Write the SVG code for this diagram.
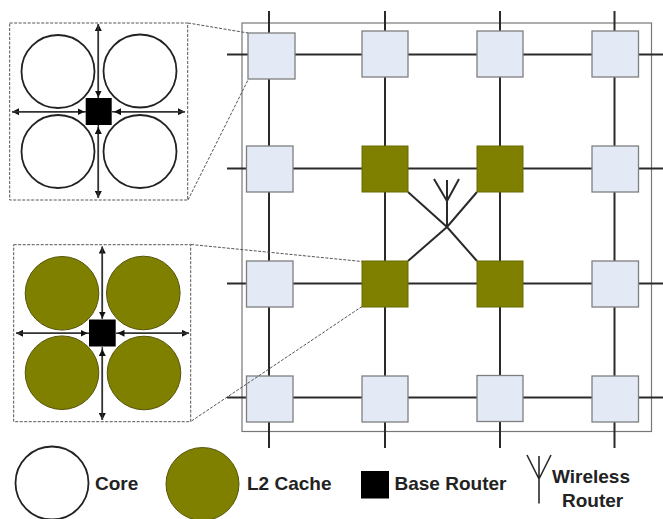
<svg xmlns="http://www.w3.org/2000/svg" width="663" height="519" viewBox="0 0 663 519">
<style>
text{font-family:"Liberation Sans",Arial,sans-serif;font-weight:bold;font-size:19px;fill:#222}
.w{fill:#e3eaf5;stroke:#7f7f7f;stroke-width:1.3}
.o{fill:#7f7f00;stroke:#6a6a00;stroke-width:1}
.l{stroke:#2a2a2a;stroke-width:2;fill:none}
.a{stroke:#333;stroke-width:1.5;fill:none;marker-end:url(#ar)}
.d{stroke:#555;stroke-width:1;fill:none;stroke-dasharray:3 1.5}
.core{fill:#fff;stroke:#222;stroke-width:1.8}
.l2{fill:#7f7f00;stroke:#55550a;stroke-width:1}
</style>
<defs>
<marker id="ar" viewBox="0 0 7 7" refX="7" refY="3.500" markerWidth="7" markerHeight="7" orient="auto" markerUnits="userSpaceOnUse"><path d="M0 0L7 3.500L0 7Z" fill="#111"/></marker>
</defs>
<rect x="242" y="23" width="409.500" height="408.500" fill="none" stroke="#777" stroke-width="1.2"/>
<g id="connectors">
<path class="l" d="M269 11V448M385 11V448M500 11V448M614.500 11V448"/>
<path class="l" d="M227 54.500H663M227 168.500H663M227 283.500H663M227 397.500H663"/>
<path class="l" d="M408 192L447 227L477 261M477 192L447 227L408 261M447 227V180M447 201L434 179M447 201L459 179"/>
</g>
<g id="router-r0c0"><rect class="w" x="248" y="33" width="47" height="46"/></g>
<g id="router-r0c1"><rect class="w" x="362" y="31" width="46" height="46"/></g>
<g id="router-r0c2"><rect class="w" x="477" y="31" width="46" height="46"/></g>
<g id="router-r0c3"><rect class="w" x="592" y="31" width="46.500" height="46"/></g>
<g id="router-r1c0"><rect class="w" x="246.500" y="146" width="46.500" height="46"/></g>
<g id="router-r1c1"><rect class="o" x="362" y="146" width="46" height="46"/></g>
<g id="router-r1c2"><rect class="o" x="477" y="146" width="46" height="46"/></g>
<g id="router-r1c3"><rect class="w" x="592" y="146" width="46.500" height="46"/></g>
<g id="router-r2c0"><rect class="w" x="246.500" y="261" width="46.500" height="46"/></g>
<g id="router-r2c1"><rect class="o" x="362" y="261" width="46" height="46"/></g>
<g id="router-r2c2"><rect class="o" x="477" y="261" width="46" height="46"/></g>
<g id="router-r2c3"><rect class="w" x="592" y="261" width="46.500" height="46"/></g>
<g id="router-r3c0"><rect class="w" x="246.500" y="376" width="46.500" height="46"/></g>
<g id="router-r3c1"><rect class="w" x="362" y="376" width="46" height="46"/></g>
<g id="router-r3c2"><rect class="w" x="477" y="375.500" width="46" height="46"/></g>
<g id="router-r3c3"><rect class="w" x="592" y="376" width="46.500" height="46"/></g>
<g id="zoom-guides"><path class="d" d="M188 23L248 33M188 200L248 80M191 244.500L362 261.500M191.500 421L362 306.500"/></g>
<g id="tile-core">
<rect class="d" x="9.700" y="23" width="178" height="177"/>
<circle class="core" cx="58" cy="71.500" r="36.500"/><circle class="core" cx="140" cy="71" r="36.500"/>
<circle class="core" cx="58" cy="151.500" r="36.500"/><circle class="core" cx="140" cy="151.500" r="36.500"/>
<path class="a" d="M98.300 98V24"/><path class="a" d="M98.300 24V97.500"/>
<path class="a" d="M98.300 125V198"/><path class="a" d="M98.300 198V127"/>
<path class="a" d="M86 111.700H12"/><path class="a" d="M12 111.700H84.500"/>
<path class="a" d="M112 111.700H185"/><path class="a" d="M185 111.700H114"/>
<rect x="85.700" y="98" width="26" height="27" fill="#000"/>
</g>
<g id="tile-l2">
<rect class="d" x="13.700" y="244.700" width="177" height="177"/>
<circle class="l2" cx="62" cy="293.300" r="36.800"/><circle class="l2" cx="143.300" cy="293" r="36.800"/>
<circle class="l2" cx="62" cy="372.700" r="36.800"/><circle class="l2" cx="144" cy="373" r="36.800"/>
<path class="a" d="M102.300 319V246.500"/><path class="a" d="M102.300 246.500V318.500"/>
<path class="a" d="M102.300 347V420"/><path class="a" d="M102.300 420V349"/>
<path class="a" d="M89 333.300H16"/><path class="a" d="M16 333.300H87.500"/>
<path class="a" d="M116 333.300H189"/><path class="a" d="M189 333.300H117.500"/>
<rect x="89" y="319.500" width="26.700" height="27" fill="#000"/>
</g>
<g id="legend-core"><circle class="core" cx="52" cy="483" r="36.500"/><text x="95" y="490">Core</text></g>
<g id="legend-l2"><circle class="l2" cx="202.500" cy="484" r="36.500"/><text x="247" y="490">L2 Cache</text></g>
<g id="legend-base"><rect x="361" y="471" width="28" height="27.500" fill="#000"/><text x="394.500" y="490">Base Router</text></g>
<g id="legend-wireless"><path class="l" style="stroke-width:1.6" d="M539 503.500V456M539 479L527 455M539 479L551 455"/><text x="552" y="483">Wireless</text><text x="562" y="507">Router</text></g>
</svg>
